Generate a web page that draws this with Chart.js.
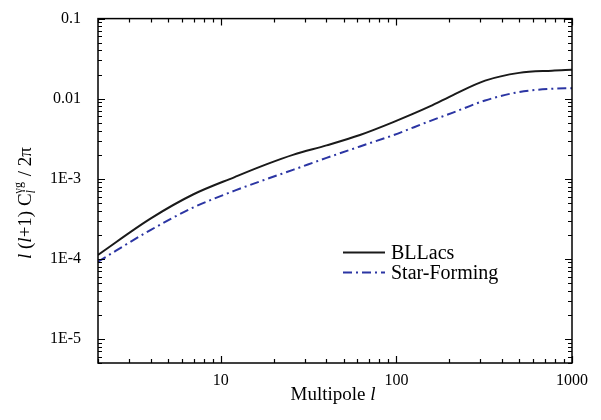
<!DOCTYPE html>
<html>
<head>
<meta charset="utf-8">
<script src="https://cdn.jsdelivr.net/npm/chart.js@4.4.0/dist/chart.umd.min.js"></script>
<style>
  html, body { margin: 0; padding: 0; background: #fff; }
  #wrap { width: 601px; height: 420px; }
</style>
</head>
<body>
<div id="wrap"><canvas id="clChart"></canvas></div>
<script>
// multipole values
const multipoles = [2, 4, 7, 12, 18, 26, 40, 62, 96, 155, 210, 320, 500, 770, 1000];
const bllacs = [1.12e-4, 3.2e-4, 6.4e-4, 1.05e-3, 1.5e-3, 2.0e-3, 2.61e-3, 3.52e-3, 5.1e-3, 8.0e-3, 0.0111, 0.0168, 0.021, 0.0224, 0.023];
const starForming = [9.2e-5, 2.3e-4, 4.39e-4, 7.1e-4, 9.8e-4, 1.3e-3, 1.82e-3, 2.53e-3, 3.5e-3, 5.25e-3, 6.7e-3, 9.5e-3, 0.0121, 0.0133, 0.0135];

// tick labels
const xMajor = [10, 100, 1000];
const yMajor = [1e-5, 1e-4, 1e-3, 0.01, 0.1];
const yLabels = ['1E-5', '1E-4', '1E-3', '0.01', '0.1'];

const serif = '"Liberation Serif", "DejaVu Serif", serif';

// minor ticks for log axes between min and max
function logMinors(min, max) {
    const out = [];
    for (let e = Math.floor(Math.log10(min)); e <= Math.ceil(Math.log10(max)); e++) {
        for (let m = 2; m <= 9; m++) {
            const v = m * Math.pow(10, e);
            if (v >= min * 0.999 && v <= max * 1.001) out.push(v);
        }
    }
    return out;
}

// frame, inward ticks, legend and axis titles
const decorPlugin = {
    id: 'decor',
    afterDraw(chart) {
        const ctx = chart.ctx;
        const a = chart.chartArea;
        const xs = chart.scales.x, ys = chart.scales.y;
        ctx.save();
        ctx.strokeStyle = '#000';
        ctx.lineWidth = 1.5;
        ctx.strokeRect(a.left, a.top, a.right - a.left, a.bottom - a.top);

        ctx.lineWidth = 1.2;
        ctx.beginPath();
        const xt = xMajor.map(v => [v, 7]).concat(logMinors(xs.min, xs.max).map(v => [v, 4]));
        xt.forEach(([v, len]) => {
            const px = Math.round(xs.getPixelForValue(v)) + 0.5;
            ctx.moveTo(px, a.bottom); ctx.lineTo(px, a.bottom - len);
            ctx.moveTo(px, a.top); ctx.lineTo(px, a.top + len);
        });
        const yt = yMajor.map(v => [v, 7]).concat(logMinors(ys.min, ys.max).map(v => [v, 4]));
        yt.forEach(([v, len]) => {
            const py = Math.round(ys.getPixelForValue(v)) + 0.5;
            ctx.moveTo(a.left, py); ctx.lineTo(a.left + len, py);
            ctx.moveTo(a.right, py); ctx.lineTo(a.right - len, py);
        });
        ctx.stroke();

        // legend
        ctx.font = '20px ' + serif;
        ctx.textBaseline = 'middle';
        chart.data.datasets.forEach((ds, i) => {
            const y = 252.5 + i * 20;
            ctx.strokeStyle = ds.borderColor;
            ctx.lineWidth = ds.borderWidth;
            ctx.setLineDash(ds.borderDash || []);
            ctx.beginPath();
            ctx.moveTo(343, y); ctx.lineTo(385, y);
            ctx.stroke();
            ctx.setLineDash([]);
            ctx.fillStyle = '#000';
            ctx.fillText(ds.label, 391, y + 1);
        });

        // x title
        ctx.textBaseline = 'alphabetic';
        ctx.fillStyle = '#000';
        const xa = 'Multipole ';
        ctx.font = '19px ' + serif;
        const w1 = ctx.measureText(xa).width;
        ctx.font = 'italic 19px ' + serif;
        const w2 = ctx.measureText('l').width;
        let sx = 333 - (w1 + w2) / 2;
        ctx.font = '19px ' + serif;
        ctx.fillText(xa, sx, 400);
        ctx.font = 'italic 19px ' + serif;
        ctx.fillText('l', sx + w1, 400);

        // y title, drawn rotated
        ctx.translate(31, 259);
        ctx.rotate(-Math.PI / 2);
        let cx = 0;
        const put = (txt, font, dy) => {
            ctx.font = font;
            ctx.fillText(txt, cx, dy || 0);
            return ctx.measureText(txt).width;
        };
        cx += put('l', 'italic 19px ' + serif);
        cx += put(' (', '19px ' + serif);
        cx += put('l', 'italic 19px ' + serif);
        cx += put('+1) C', '19px ' + serif);
        const sub = put('l', 'italic 12px ' + serif, 4);
        const sup = put('\u03b3g', '12px ' + serif, -9);
        cx += Math.max(sub, sup) + 1;
        put(' / 2\u03c0', '19px ' + serif);
        ctx.restore();
    }
};

const ctx = document.getElementById('clChart').getContext('2d');
const clChart = new Chart(ctx, {
    type: 'line',
    data: {
        datasets: [
            {
                label: 'BLLacs',
                data: multipoles.map((l, i) => ({ x: l, y: bllacs[i] })),
                borderColor: '#1a1a1a',
                borderWidth: 2,
                pointRadius: 0,
                cubicInterpolationMode: 'monotone',
                fill: false
            },
            {
                label: 'Star-Forming',
                data: multipoles.map((l, i) => ({ x: l, y: starForming[i] })),
                borderColor: '#2b35a3',
                borderWidth: 2,
                borderDash: [9, 4, 2, 4],
                pointRadius: 0,
                cubicInterpolationMode: 'monotone',
                fill: false
            }
        ]
    },
    options: {
        responsive: true,
        maintainAspectRatio: false,
        animation: false,
        layout: { padding: { top: 14, right: 29, left: 0, bottom: 0 } },
        plugins: {
            legend: { display: false },
            tooltip: { enabled: false }
        },
        scales: {
            x: {
                type: 'logarithmic',
                min: 2,
                max: 1000,
                grid: { display: false },
                border: { display: false },
                afterBuildTicks: scale => { scale.ticks = xMajor.map(v => ({ value: v })); },
                afterFit: scale => { scale.height = 57; },
                ticks: {
                    color: '#000',
                    padding: 0,
                    maxRotation: 0,
                    font: { family: serif, size: 16 },
                    callback: v => String(v)
                }
            },
            y: {
                type: 'logarithmic',
                min: 5e-6,
                max: 0.1,
                grid: { display: false },
                border: { display: false },
                afterBuildTicks: scale => { scale.ticks = yMajor.map(v => ({ value: v })); },
                afterFit: scale => { scale.width = 98; },
                ticks: {
                    color: '#000',
                    padding: 9,
                    font: { family: serif, size: 16 },
                    callback: v => yLabels[yMajor.findIndex(m => Math.abs(m - v) / m < 1e-6)]
                }
            }
        }
    },
    plugins: [decorPlugin]
});
</script>
</body>
</html>
